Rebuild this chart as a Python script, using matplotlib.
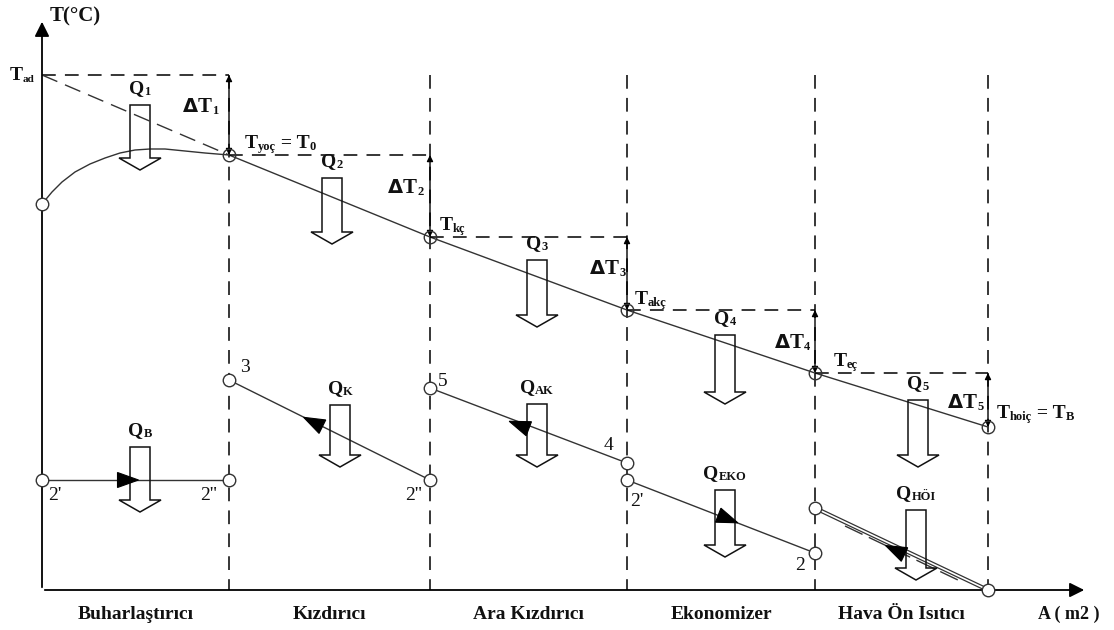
import numpy as np
import matplotlib.pyplot as plt
from matplotlib.patches import Polygon

plt.rcParams['font.family'] = ['Liberation Serif', 'DejaVu Serif']

INK = '#111111'
LINE = '#333333'

# section boundaries along the heat-transfer area axis
section_x = [42, 229, 430, 627, 815, 988]
section_names = ['Buharlaştırıcı', 'Kızdırıcı', 'Ara Kızdırıcı', 'Ekonomizer', 'Hava Ön Isıtıcı']

# flue gas temperature level (drawing units, down = colder)
T_ad = 75
gas_T = [155, 237, 310, 373, 427]
gas_T_labels = [
    [('T', 14), ('yoç', 9), (' = T', 14), ('0', 9)],
    [('T', 14), ('kç', 9)],
    [('T', 14), ('akç', 9)],
    [('T', 14), ('eç', 9)],
    [('T', 14), ('hoiç', 9), (' = T', 14), ('B', 9)],
]
gas_label_pos = [(245, 148), (440, 230), (635, 304), (834, 366), (997, 418)]
dT_label_pos = [(183, 112), (388, 193), (590, 274), (775, 348), (948, 408)]

# evaporator water curve, 2' -> saturated steam
evap_x = [42, 52, 62, 75, 90, 105, 120, 135, 150, 165, 185, 205, 229]
evap_y = [204, 192, 182, 172, 164, 158, 153, 150, 149, 149, 151, 153, 155]

# water / steam side lines: (x0, y0, x1, y1)
water_lines = [
    (42, 480, 229, 480),
    (229, 380, 430, 480),
    (430, 388, 627, 463),
    (627, 480, 815, 553),
    (815, 508, 988, 590),
]
flow_arrow_pos = [(128, 480), (313, 422), (519, 425), (728, 519), (895, 550)]
flow_arrow_dir = [1, -1, -1, 1, -1]
point_labels = [
    ("2'", 48, 500), ("2''", 200, 500), ('3', 240, 372), ("2''", 405, 500),
    ('5', 438, 386), ('4', 604, 450), ("2'", 630, 506), ('2', 795, 570),
]

# hollow heat-flow arrows: centre x, top y, bottom of shaft
q_arrows = [
    (140, 105, 158, [('Q', 14), ('1', 9)]),
    (332, 178, 232, [('Q', 14), ('2', 9)]),
    (537, 260, 315, [('Q', 14), ('3', 9)]),
    (725, 335, 392, [('Q', 14), ('4', 9)]),
    (918, 400, 455, [('Q', 14), ('5', 9)]),
    (140, 447, 500, [('Q', 14), ('B', 9)]),
    (340, 405, 455, [('Q', 14), ('K', 9)]),
    (537, 404, 455, [('Q', 14), ('AK', 9)]),
    (725, 490, 545, [('Q', 14), ('EKO', 9)]),
    (916, 510, 568, [('Q', 14), ('HÖI', 9)]),
]

fig = plt.figure(figsize=(11.14, 6.3), dpi=100)
ax = fig.add_axes([0, 0, 1, 1])
ax.set_xlim(0, 1114)
ax.set_ylim(630, 0)
ax.axis('off')
renderer = fig.canvas.get_renderer()


def rich_text(x, y, parts, weight='bold', ha='left'):
    # draw text segments of mixed size on one baseline
    items = []
    total = 0
    for s, size in parts:
        t = ax.text(0, 0, s, fontsize=size, fontweight=weight, color=INK,
                    va='baseline', ha='left')
        w = t.get_window_extent(renderer).width
        items.append((t, w, size))
        total += w
    if ha == 'center':
        x = x - total / 2
    for t, w, size in items:
        t.set_position((x, y + (2 if size < 11 else 0)))
        x += w


def hollow_arrow(xc, ytop, ybase, half=10, head=21, tip=12):
    pts = [(xc - half, ytop), (xc + half, ytop), (xc + half, ybase),
           (xc + head, ybase), (xc, ybase + tip), (xc - head, ybase),
           (xc - half, ybase)]
    ax.add_patch(Polygon(pts, closed=True, fc='none', ec=INK, lw=1.1, zorder=4))


def flow_triangle(xc, yc, dx, dy, length=21, width=15):
    d = np.array([dx, dy], float)
    d /= np.hypot(*d)
    n = np.array([-d[1], d[0]])
    c = np.array([xc, yc])
    tip = c + d * length / 2
    b = c - d * length / 2
    pts = [tip, b + n * width / 2, b - n * width / 2]
    ax.add_patch(Polygon(pts, closed=True, fc='black', ec='black', lw=0.8, zorder=6))


dash = (0, (9, 6))

# axes of the diagram
ax.annotate('', xy=(42, 19), xytext=(42, 590),
            arrowprops=dict(arrowstyle='-|>', color='black', lw=1.3, mutation_scale=22))
ax.annotate('', xy=(1087, 590), xytext=(42, 590),
            arrowprops=dict(arrowstyle='-|>', color='black', lw=1.3, mutation_scale=22))
ax.text(50, 21, 'T(°C)', fontsize=15, fontweight='bold', color=INK)
ax.text(1038, 619, 'A ( m2 )', fontsize=13, fontweight='bold', color=INK)

# section boundaries
for x in section_x[1:]:
    ax.plot([x, x], [T_ad, 590], color='black', lw=1.1, linestyle=dash)

# section names
for i, name in enumerate(section_names):
    xc = (section_x[i] + section_x[i + 1]) / 2
    ax.text(xc, 619, name, fontsize=14, fontweight='bold', color=INK, ha='center')

# adiabatic flame temperature
rich_text(10, 80, [('T', 14), ('ad', 8)])
ax.plot([42, section_x[1]], [T_ad, T_ad], color='black', lw=1.1, linestyle=dash)
ax.plot([42, section_x[1]], [T_ad, gas_T[0]], color=LINE, lw=1.0, linestyle=(0, (12, 6)))

# flue gas line and temperature differences per section
ax.plot(section_x[1:], gas_T, color=LINE, lw=1.0)
upper = [T_ad] + gas_T[:-1]
for i, x in enumerate(section_x[1:]):
    ax.annotate('', xy=(x, upper[i]), xytext=(x, gas_T[i]),
                arrowprops=dict(arrowstyle='<|-|>', color='black', lw=1.0,
                                mutation_scale=9, shrinkA=0, shrinkB=0))
    if i < len(gas_T) - 1:
        ax.plot([x, section_x[i + 2]], [gas_T[i], gas_T[i]], color='black', lw=1.1,
                linestyle=dash)
    ax.plot(x, gas_T[i], 'o', ms=9, mfc='none', mec=LINE, mew=1.0, zorder=5)
    rich_text(*gas_label_pos[i], gas_T_labels[i])
    lx, ly = dT_label_pos[i]
    ax.text(lx, ly, 'Δ', fontsize=14, fontweight='bold', color=INK,
            family='DejaVu Sans', va='baseline')
    rich_text(lx + 15, ly, [('T', 15), (str(i + 1), 9)])

# evaporating water
ax.plot(evap_x, evap_y, color=LINE, lw=1.0)
ax.plot(evap_x[0], evap_y[0], 'o', ms=9, mfc='white', mec=LINE, mew=1.0, zorder=5)

# water / steam side
for (x0, y0, x1, y1), (fx, fy), s in zip(water_lines[:-1], flow_arrow_pos, flow_arrow_dir):
    ax.plot([x0, x1], [y0, y1], color=LINE, lw=1.0, zorder=3)
    ax.plot([x0, x1], [y0, y1], 'o', ms=9, mfc='white', mec=LINE, mew=1.0, zorder=5)
    flow_triangle(fx, fy, s * (x1 - x0), s * (y1 - y0))

# air preheater drawn as a tube with a dashed companion line
x0, y0, x1, y1 = water_lines[-1]
for off in (-1.6, 1.6):
    ax.plot([x0, x1], [y0 + off, y1 + off], color=LINE, lw=0.9, zorder=3)
ax.plot([x0 + 30, x1 - 28], [y0 + 18, y1 - 9], color=LINE, lw=1.0,
        linestyle=(0, (14, 5)), zorder=3)
ax.plot([x0, x1], [y0, y1], 'o', ms=9, mfc='white', mec=LINE, mew=1.0, zorder=5)
flow_triangle(*flow_arrow_pos[-1], flow_arrow_dir[-1] * (x1 - x0),
              flow_arrow_dir[-1] * (y1 - y0))

for s, x, y in point_labels:
    ax.text(x, y, s, fontsize=14, color=INK)

# heat flow arrows
for xc, ytop, ybase, label in q_arrows:
    hollow_arrow(xc, ytop, ybase)
    rich_text(xc, ytop - 12, label, ha='center')

fig.savefig('out.png', dpi=100)
